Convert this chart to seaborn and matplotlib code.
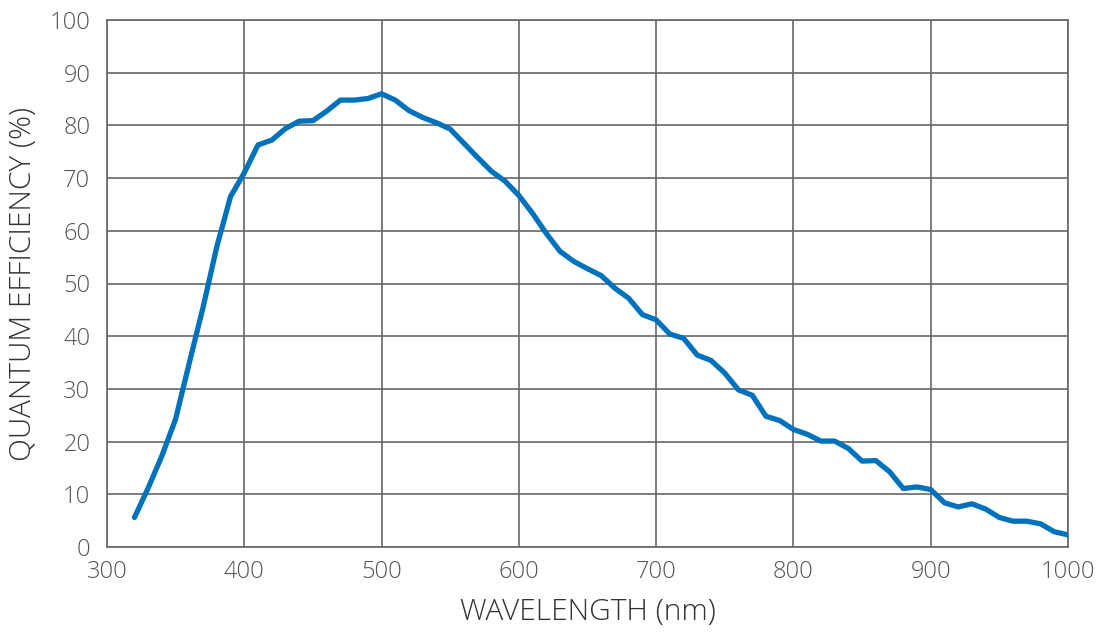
import matplotlib
matplotlib.use('Agg')
import matplotlib.pyplot as plt
import seaborn as sns
import pandas as pd

# wavelength (nm) and quantum efficiency (%)
wavelength = list(range(320, 1001, 10))
qe = [5.6, 11.2, 17.3, 24.3, 35.0, 45.5, 57.0, 66.5, 71.0, 76.3,
      77.2, 79.4, 80.8, 80.9, 82.7, 84.8, 84.8, 85.1, 86.0, 84.8,
      82.8, 81.5, 80.5, 79.3, 76.6, 73.9, 71.3, 69.4, 66.7, 63.3,
      59.5, 56.1, 54.2, 52.8, 51.5, 49.1, 47.2, 44.1, 43.1, 40.4,
      39.6, 36.4, 35.4, 33.0, 29.8, 28.8, 24.8, 24.0, 22.3, 21.4,
      20.1, 20.1, 18.7, 16.3, 16.4, 14.3, 11.1, 11.4, 10.9, 8.4,
      7.6, 8.2, 7.2, 5.6, 4.9, 4.9, 4.4, 2.9, 2.3]
x_ticks = list(range(300, 1001, 100))
y_ticks = list(range(0, 101, 10))

df = pd.DataFrame({'wavelength': wavelength, 'qe': qe})

sns.set_style('white')
plt.rcParams['font.family'] = ['Open Sans', 'DejaVu Sans']

fig = plt.figure(figsize=(11.08, 6.44), dpi=100)
ax = fig.add_axes([107 / 1108, 1 - 547 / 644, 961 / 1108, 527 / 644])

sns.lineplot(data=df, x='wavelength', y='qe', ax=ax, color='#0072bc',
             linewidth=3.8, solid_joinstyle='round', solid_capstyle='round',
             zorder=3)

ax.set_xlim(300, 1000)
ax.set_ylim(0, 100)
ax.set_xticks(x_ticks)
ax.set_yticks(y_ticks)
ax.grid(True, color='#666666', linewidth=1.2)
for s in ax.spines.values():
    s.set_color('#666666')
    s.set_linewidth(1.2)
ax.tick_params(axis='both', length=0, labelsize=17, labelcolor='#555555')
ax.tick_params(axis='y', pad=12)
ax.tick_params(axis='x', pad=9)
for lbl in ax.get_xticklabels() + ax.get_yticklabels():
    lbl.set_fontweight(300)

ax.set_xlabel('WAVELENGTH (nm)', fontsize=21.5, color='#333333',
              fontweight=300, labelpad=10)
ax.set_ylabel('QUANTUM EFFICIENCY (%)', fontsize=21.5, color='#333333',
              fontweight=300, labelpad=8)

fig.savefig('out.png', dpi=100)
